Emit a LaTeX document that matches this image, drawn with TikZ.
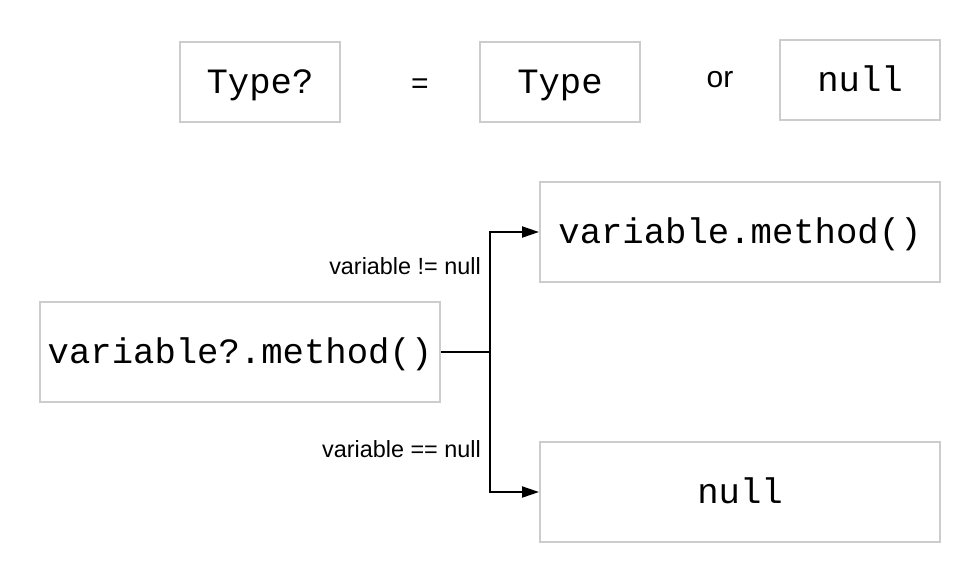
\documentclass[tikz,border=0pt]{standalone}
\usepackage{fontspec}
\setmainfont{Liberation Sans}
\newfontfamily\codefont{Liberation Mono}
\usetikzlibrary{arrows.meta}
\definecolor{boxgray}{HTML}{CCCCCC}
\tikzset{
  codebox/.style={draw=boxgray, line width=2pt, inner sep=0pt, align=center,
    font=\codefont\fontsize{35.6}{40}\selectfont},
  smallbox/.style={codebox, minimum width=160pt, minimum height=80pt, text height=51pt, text depth=29pt},
  bigbox/.style={codebox, minimum width=400pt, minimum height=100pt, text height=61pt, text depth=39pt},
  condlabel/.style={font=\fontsize{23.4}{26}\selectfont, inner sep=0pt, anchor=base east},
  opword/.style={font=\fontsize{30}{34}\selectfont, inner sep=0pt},
  conn/.style={line width=2pt, black},
  arr/.style={conn, -{Triangle[length=17pt, width=11pt]}}
}
\begin{document}
\begin{tikzpicture}[x=1pt, y=-1pt]
\useasboundingbox (0,0) rectangle (980,582);
% top row
\node[smallbox] (tq) at (260,82) {Type?};
\node[opword] (eq) at (420,86) {=};
\node[smallbox] (tt) at (560,82) {Type};
\node[opword] (or) at (720,80) {or};
\node[smallbox] (tn) at (860,80) {null};
% main boxes
\node[bigbox] (vq) at (240,352) {variable?.method()};
\node[bigbox] (vm) at (740,232) {variable.method()};
\node[bigbox] (nb) at (740,492) {null};
% connectors
\coordinate (j) at (490,352);
\draw[conn] (vq.east) -- (j);
\draw[arr] (j) |- (vm.west);
\draw[arr] (j) |- (nb.west);
% labels
\node[condlabel] (lne) at (481,274) {variable != null};
\node[condlabel] (leq) at (481,457) {variable == null};
\end{tikzpicture}
\end{document}
